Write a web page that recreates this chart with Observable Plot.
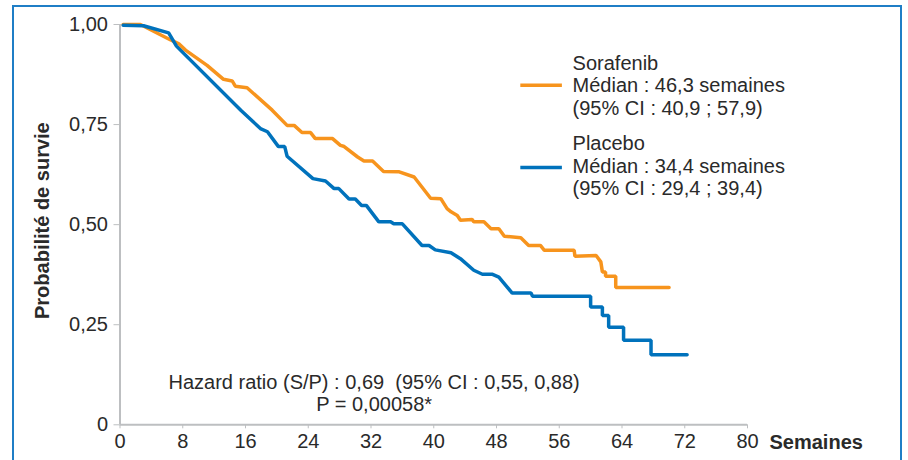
<!DOCTYPE html>
<html><head><meta charset="utf-8">
<script src="https://cdn.jsdelivr.net/npm/d3@7"></script>
<script src="https://cdn.jsdelivr.net/npm/@observablehq/plot@0.6"></script>
<style>
html,body{margin:0;padding:0;background:#fff;}
#wrap{position:relative;width:908px;height:460px;overflow:hidden;}
#frame{position:absolute;left:12px;top:5px;width:890px;height:480px;border:2.5px solid #1f7ec6;box-sizing:border-box;pointer-events:none;}
</style></head><body>
<div id="wrap"><div id="chart"></div><div id="frame"></div></div>
<script>
// ---- data ----
const weekTicks = [0, 8, 16, 24, 32, 40, 48, 56, 64, 72, 80];
const survivalTicks = [0, 0.25, 0.5, 0.75, 1];

const sorafenibWeeks = [0.4, 2.6, 6.4, 7.5, 8.35, 11.1, 13.2, 14.3, 14.7, 16.2, 19.4, 21.3, 22.2, 23.2, 24.3, 24.9, 27.1, 28.1, 28.5, 30.3, 31.1, 32.2, 33.6, 35.6, 37.5, 39.6, 40.9, 41.7, 42.2, 43.0, 43.4, 44.9, 45.1, 46.4, 47.3, 48.3, 49.0, 51.1, 52.1, 53.6, 54.1, 57.9, 58.0, 60.7, 61.3, 61.5, 61.9, 61.9, 63.2, 63.2, 70.0];
const sorafenibSurvival = [1.0, 1.0, 0.962, 0.952, 0.936, 0.898, 0.863, 0.859, 0.846, 0.842, 0.786, 0.748, 0.748, 0.73, 0.73, 0.715, 0.715, 0.698, 0.696, 0.669, 0.659, 0.659, 0.633, 0.632, 0.619, 0.566, 0.565, 0.54, 0.532, 0.523, 0.511, 0.513, 0.507, 0.507, 0.49, 0.49, 0.471, 0.467, 0.448, 0.448, 0.436, 0.436, 0.421, 0.423, 0.407, 0.382, 0.382, 0.371, 0.371, 0.343, 0.343];

const placeboWeeks = [0.4, 3.0, 6.2, 7.2, 15.4, 17.9, 18.8, 20.2, 21.0, 21.3, 24.6, 26.2, 27.3, 27.9, 29.2, 30.0, 30.8, 31.4, 33.0, 34.5, 34.9, 36.0, 38.5, 39.4, 40.2, 42.2, 43.4, 45.1, 46.2, 47.5, 48.3, 50.0, 52.4, 52.6, 60.0, 60.0, 61.5, 61.5, 62.3, 62.3, 64.2, 64.2, 67.7, 67.7, 72.3];
const placeboSurvival = [0.998, 0.997, 0.979, 0.946, 0.786, 0.74, 0.732, 0.695, 0.695, 0.671, 0.615, 0.609, 0.59, 0.59, 0.564, 0.564, 0.548, 0.548, 0.507, 0.507, 0.502, 0.502, 0.448, 0.448, 0.437, 0.43, 0.415, 0.386, 0.376, 0.376, 0.369, 0.329, 0.329, 0.321, 0.321, 0.294, 0.294, 0.273, 0.273, 0.244, 0.244, 0.211, 0.211, 0.175, 0.175];

const seriesNames = ["Sorafenib", "Placebo"];
const seriesColors = ["#f7941d", "#0072bc"];
const legendLabels = [
  ["Sorafenib", "Médian : 46,3 semaines", "(95% CI : 40,9 ; 57,9)"],
  ["Placebo", "Médian : 34,4 semaines", "(95% CI : 29,4 ; 39,4)"]
];
const hazardLabels = ["Hazard ratio (S/P) : 0,69\u00a0 (95% CI : 0,55, 0,88)", "P = 0,00058*"];
const yTitle = "Probabilité de survie";
const xTitle = "Semaines";

// ---- build ----
const textColor = "#2a2a2a";
const axisGray = "#bdbfc1";
const rows = [];
sorafenibWeeks.forEach((w, i) => rows.push({series: seriesNames[0], week: w, surv: sorafenibSurvival[i]}));
placeboWeeks.forEach((w, i) => rows.push({series: seriesNames[1], week: w, surv: placeboSurvival[i]}));

// legend layout (chart coordinates)
const legendSwatch = [
  {series: seriesNames[0], y: 0.848, x1: 51.1, x2: 56.4},
  {series: seriesNames[1], y: 0.6425, x1: 51.1, x2: 56.4}
];
const legendText = [
  {t: legendLabels[0][0], y: 0.887}, {t: legendLabels[0][1], y: 0.831}, {t: legendLabels[0][2], y: 0.775},
  {t: legendLabels[1][0], y: 0.68575}, {t: legendLabels[1][1], y: 0.62975}, {t: legendLabels[1][2], y: 0.57375}
];
const hazardText = [{t: hazardLabels[0], y: 0.09}, {t: hazardLabels[1], y: 0.034}];

const fmtY = d => d === 0 ? "0" : d.toFixed(2).replace(".", ",");

const chart = Plot.plot({
  width: 908,
  height: 460,
  marginLeft: 119.5,
  marginRight: 161,
  marginTop: 24,
  marginBottom: 35.7,
  style: {fontFamily: "'Liberation Sans', Arial, Helvetica, sans-serif", fontSize: "20px", color: textColor, background: "transparent", overflow: "visible"},
  x: {domain: [0, 80]},
  y: {domain: [0, 1]},
  color: {domain: seriesNames, range: seriesColors},
  marks: [
    Plot.ruleX([0], {stroke: axisGray, strokeWidth: 2}),
    Plot.ruleY([0], {stroke: axisGray, strokeWidth: 2}),
    Plot.axisX({ticks: weekTicks, tickSize: 4, tickPadding: 5, stroke: axisGray, fill: textColor, label: null, fontSize: 20}),
    Plot.axisY({ticks: survivalTicks, tickFormat: fmtY, tickSize: 6, tickPadding: 6, stroke: axisGray, fill: textColor, label: null, fontSize: 20}),
    Plot.line(rows, {x: "week", y: "surv", z: "series", stroke: "series", strokeWidth: 3.5, strokeLinejoin: "miter", curve: "linear"}),
    Plot.ruleY(legendSwatch, {y: "y", x1: "x1", x2: "x2", stroke: "series", strokeWidth: 3.5}),
    Plot.text(legendText, {x: 57.7, y: "y", text: "t", textAnchor: "start", lineAnchor: "bottom", fill: textColor, fontSize: 20}),
    Plot.text(hazardText, {x: 32.4, y: "y", text: "t", textAnchor: "middle", lineAnchor: "bottom", fill: textColor, fontSize: 20}),
    Plot.text([yTitle], {frameAnchor: "left", text: d => d, rotate: -90, dx: -77, dy: -4, textAnchor: "middle", lineAnchor: "middle", fontWeight: "bold", fill: textColor, fontSize: 20}),
    Plot.text([xTitle], {frameAnchor: "bottom-right", text: d => d, dx: 22, dy: 23.7, textAnchor: "start", lineAnchor: "bottom", fontWeight: "bold", fill: textColor, fontSize: 20})
  ]
});
document.getElementById("chart").appendChild(chart);
</script>
</body></html>
